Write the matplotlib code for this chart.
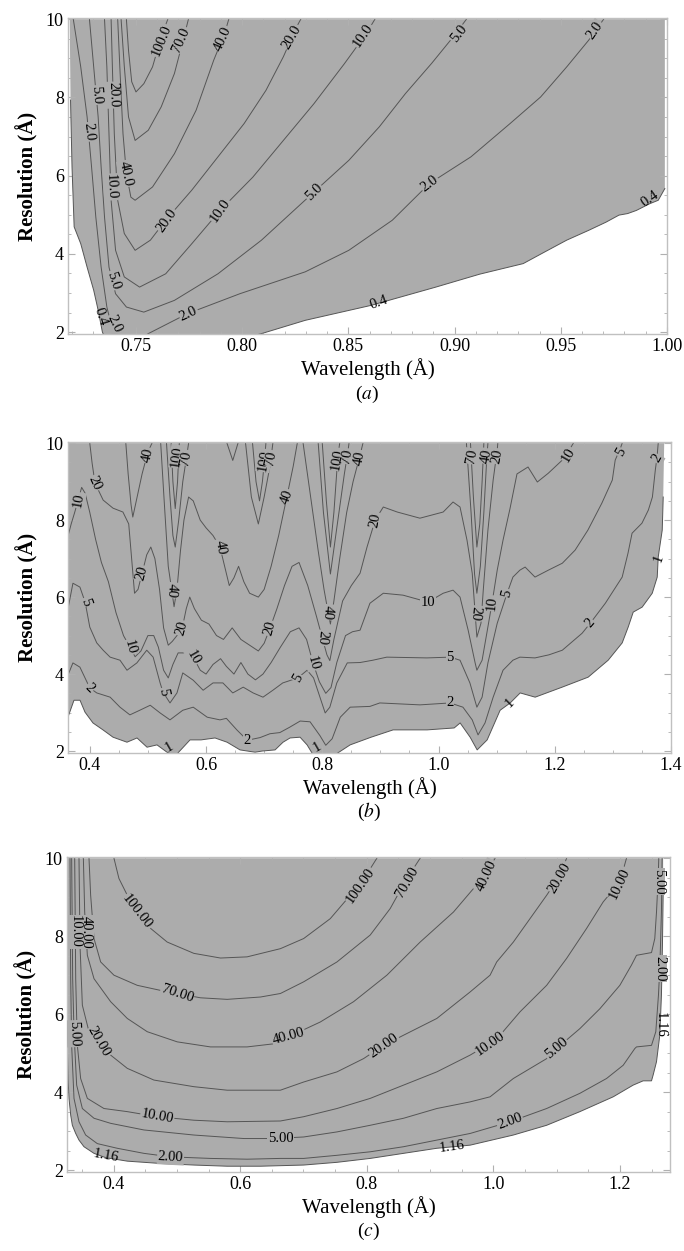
import numpy as np
import matplotlib.pyplot as plt
from matplotlib.ticker import MultipleLocator, FormatStrFormatter

plt.rcParams['font.family'] = ['Liberation Serif', 'DejaVu Serif']
plt.rcParams['mathtext.fontset'] = 'stix'

GRAY = '#acacac'
INK = '#555555'

# ---------------- panel (a) ----------------
# lower edge of the shaded area (0.4 level)
a_edge = [(0.7188, 10.0), (0.7192, 7.93), (0.7199, 6.22), (0.7209, 4.69), (0.7240, 4.26),
          (0.7270, 3.66), (0.7301, 3.07), (0.7322, 2.56), (0.7342, 2.00), (0.7352, 1.87),
          (0.7600, 1.60), (0.7900, 1.70), (0.8091, 1.96), (0.8297, 2.30), (0.8605, 2.68),
          (0.8912, 3.15), (0.9118, 3.48), (0.9323, 3.75), (0.9425, 4.05), (0.9528, 4.35),
          (0.9631, 4.60), (0.9713, 4.81), (0.9774, 4.99), (0.9815, 5.03), (0.9856, 5.11),
          (0.9918, 5.28), (0.9959, 5.37), (0.9990, 5.67), (0.9990, 10.0)]
a_c2 = [(0.7205, 10.0), (0.7240, 8.78), (0.7270, 7.50), (0.7291, 6.22), (0.7311, 4.94),
        (0.7336, 3.66), (0.7363, 2.64), (0.7394, 1.96), (0.7476, 1.70), (0.7558, 1.96),
        (0.7742, 2.47), (0.7989, 2.98), (0.8297, 3.54), (0.8502, 4.09), (0.8707, 4.86),
        (0.8882, 5.80), (0.9077, 6.48), (0.9261, 7.33), (0.9405, 8.01), (0.9528, 8.78),
        (0.9631, 9.46), (0.9702, 10.0)]
a_c5 = [(0.7281, 10.0), (0.7301, 8.78), (0.7322, 7.50), (0.7336, 6.22), (0.7352, 4.94),
        (0.7373, 3.66), (0.7404, 2.98), (0.7455, 2.64), (0.7537, 2.51), (0.7681, 2.81),
        (0.7886, 3.49), (0.8091, 4.35), (0.8338, 5.58), (0.8502, 6.39), (0.8646, 7.25),
        (0.8769, 8.10), (0.8892, 8.87), (0.8994, 9.55), (0.9056, 10.0)]
a_c10 = [(0.7352, 10.0), (0.7363, 8.78), (0.7373, 7.07), (0.7383, 5.37), (0.7404, 4.09),
         (0.7445, 3.41), (0.7517, 3.15), (0.7640, 3.49), (0.7763, 4.26), (0.7896, 5.11),
         (0.8050, 5.96), (0.8194, 6.90), (0.8338, 7.84), (0.8481, 8.86), (0.8584, 9.63),
         (0.8625, 10.0)]
a_c20 = [(0.7383, 10.0), (0.7389, 8.78), (0.7398, 7.07), (0.7414, 5.37), (0.7445, 4.52),
         (0.7496, 4.09), (0.7568, 4.35), (0.7640, 4.86), (0.7763, 5.63), (0.7886, 6.48),
         (0.8009, 7.33), (0.8112, 8.18), (0.8194, 9.04), (0.8256, 9.80), (0.8276, 10.0)]
a_c40 = [(0.7414, 10.0), (0.7424, 8.78), (0.7439, 7.07), (0.7455, 6.05), (0.7476, 5.45),
         (0.7496, 5.37), (0.7578, 5.71), (0.7681, 6.56), (0.7783, 7.67), (0.7866, 8.95),
         (0.7917, 9.63), (0.7937, 10.0)]
a_c70 = [(0.7430, 10.0), (0.7445, 8.80), (0.7465, 7.50), (0.7496, 6.90), (0.7558, 7.16),
         (0.7619, 7.76), (0.7681, 8.61), (0.7722, 9.46), (0.7747, 10.0)]
a_c100 = [(0.7455, 10.0), (0.7465, 9.20), (0.7480, 8.40), (0.7500, 8.14), (0.7537, 8.35),
          (0.7578, 8.78), (0.7619, 9.55), (0.7650, 10.0)]
a_tags = [(0.7619, 9.45, '100.0', 68), (0.7712, 9.48, '70.0', 66), (0.7907, 9.50, '40.0', 66),
          (0.8232, 9.55, '20.0', 60), (0.8570, 9.58, '10.0', 56), (0.9019, 9.62, '5.0', 52),
          (0.9662, 9.72, '2.0', 55), (0.7313, 8.06, '5.0', -86), (0.7393, 8.06, '20.0', -88),
          (0.7278, 7.12, '2.0', -84), (0.7452, 6.05, '40.0', -78), (0.7381, 5.71, '10.0', -87),
          (0.7645, 4.86, '20.0', 55), (0.7896, 5.11, '10.0', 55), (0.8338, 5.58, '5.0', 45),
          (0.8882, 5.80, '2.0', 37), (0.7392, 3.32, '5.0', -72), (0.7748, 2.47, '2.0', 25),
          (0.7400, 2.22, '2.0', -65)]
a_edge_tags = [(0.8646, 2.76, '0.4', 20), (0.9918, 5.40, '0.4', 35), (0.7335, 2.40, '0.4', -72)]

# ---------------- panel (b) ----------------
b_edge = [(0.3608, 10.0), (0.3608, 2.81), (0.3728, 3.32), (0.3832, 3.32), (0.3918, 3.01),
          (0.4055, 2.73), (0.4227, 2.55), (0.4400, 2.36), (0.4640, 2.23), (0.4813, 2.34),
          (0.4985, 2.10), (0.5157, 2.16), (0.5329, 1.97), (0.5467, 1.87), (0.5725, 2.29),
          (0.5914, 2.29), (0.6155, 2.34), (0.6362, 2.23), (0.6585, 2.03), (0.6844, 1.97),
          (0.6964, 2.00), (0.7188, 2.03), (0.7325, 2.23), (0.7446, 2.34), (0.7618, 2.36),
          (0.7739, 2.16), (0.7876, 1.82), (0.8135, 1.82), (0.8479, 2.16), (0.8840, 2.36),
          (0.9219, 2.55), (0.9804, 2.55), (1.0269, 2.60), (1.0372, 2.73), (1.0544, 2.36),
          (1.0665, 2.03), (1.0837, 2.29), (1.1060, 3.06), (1.1233, 3.25), (1.1405, 3.51),
          (1.1663, 3.40), (1.2127, 3.66), (1.2575, 3.92), (1.2919, 4.36), (1.3160, 4.81),
          (1.3263, 5.22), (1.3350, 5.61), (1.3504, 5.74), (1.3677, 6.10), (1.3763, 6.52),
          (1.3780, 7.04), (1.3849, 7.74), (1.3866, 8.60), (1.3883, 10.0)]
b_c2 = [(0.361, 3.92), (0.371, 4.29), (0.383, 4.18), (0.400, 3.64), (0.412, 3.51), (0.435, 3.40),
        (0.452, 3.14), (0.469, 2.94), (0.486, 3.06), (0.504, 3.19), (0.521, 2.99), (0.538, 2.81),
        (0.560, 3.06), (0.578, 3.14), (0.602, 2.88), (0.624, 2.81), (0.635, 2.85), (0.653, 2.55),
        (0.671, 2.28), (0.693, 2.35), (0.710, 2.45), (0.727, 2.48), (0.744, 2.62), (0.762, 2.78),
        (0.779, 2.76), (0.796, 2.40), (0.806, 2.15), (0.817, 2.32), (0.831, 2.88), (0.848, 3.14),
        (0.882, 3.16), (0.899, 3.25), (0.968, 3.20), (1.020, 3.25), (1.042, 3.14), (1.058, 2.81),
        (1.068, 2.42), (1.080, 2.73), (1.094, 3.40), (1.111, 4.10), (1.128, 4.36), (1.140, 4.44),
        (1.166, 4.42), (1.190, 4.50), (1.213, 4.62), (1.247, 5.06), (1.261, 5.32), (1.287, 5.84),
        (1.316, 6.52), (1.326, 7.14), (1.333, 7.66), (1.350, 7.92), (1.361, 8.26), (1.368, 8.60),
        (1.373, 9.30), (1.376, 9.64), (1.378, 10.0)]
b_c5 = [(0.361, 5.58), (0.371, 6.36), (0.383, 6.26), (0.392, 5.87), (0.400, 5.22), (0.412, 4.81),
        (0.423, 4.62), (0.435, 4.44), (0.452, 4.36), (0.464, 4.10), (0.481, 4.29), (0.498, 4.62),
        (0.509, 4.44), (0.521, 3.77), (0.526, 3.53), (0.538, 3.25), (0.550, 3.51), (0.560, 4.03),
        (0.578, 3.84), (0.595, 3.58), (0.612, 3.77), (0.629, 3.77), (0.646, 3.51), (0.664, 3.66),
        (0.681, 3.51), (0.698, 3.40), (0.715, 3.58), (0.732, 3.77), (0.758, 3.90), (0.774, 4.10),
        (0.785, 3.90), (0.796, 3.40), (0.805, 2.99), (0.813, 3.14), (0.825, 3.77), (0.843, 4.29),
        (0.865, 4.30), (0.887, 4.36), (0.911, 4.44), (0.980, 4.42), (1.020, 4.44), (1.037, 4.36),
        (1.054, 3.77), (1.066, 3.14), (1.075, 3.40), (1.085, 4.29), (1.101, 5.32), (1.118, 6.10),
        (1.128, 6.52), (1.140, 6.70), (1.149, 6.78), (1.166, 6.52), (1.189, 6.70), (1.213, 6.88),
        (1.235, 7.22), (1.257, 7.74), (1.281, 8.44), (1.299, 9.04), (1.304, 9.56), (1.313, 9.87),
        (1.316, 10.0)]
b_c10 = [(0.361, 7.50), (0.368, 7.90), (0.374, 8.20), (0.380, 8.52), (0.386, 8.85), (0.392, 8.70),
         (0.400, 8.20), (0.410, 7.50), (0.420, 6.90), (0.432, 6.40), (0.445, 5.60), (0.458, 5.00),
         (0.469, 4.70), (0.478, 4.45), (0.488, 4.60), (0.500, 5.00), (0.510, 5.00), (0.518, 4.70),
         (0.527, 4.10), (0.535, 3.90), (0.543, 4.25), (0.552, 4.55), (0.560, 4.55), (0.568, 4.50),
         (0.578, 4.44), (0.590, 4.10), (0.600, 4.00), (0.612, 4.25), (0.625, 4.40), (0.635, 4.20),
         (0.648, 4.00), (0.660, 4.30), (0.672, 4.00), (0.685, 3.85), (0.698, 4.00), (0.712, 4.30),
         (0.728, 4.70), (0.745, 5.10), (0.760, 5.20), (0.773, 4.90), (0.784, 4.29), (0.795, 3.80),
         (0.806, 3.50), (0.815, 3.65), (0.825, 4.30), (0.840, 5.00), (0.852, 5.10), (0.865, 5.14),
         (0.882, 5.84), (0.905, 6.10), (0.939, 6.05), (0.982, 5.87), (1.008, 6.10), (1.025, 6.18),
         (1.037, 6.00), (1.051, 5.14), (1.063, 4.29), (1.066, 4.10), (1.075, 4.36), (1.084, 5.14),
         (1.092, 5.84), (1.101, 6.70), (1.111, 7.48), (1.123, 8.30), (1.135, 9.20), (1.154, 9.38),
         (1.170, 8.99), (1.189, 9.22), (1.213, 9.56), (1.223, 9.77), (1.232, 10.0)]
b_c20 = [(0.400, 10.0), (0.404, 9.48), (0.409, 8.96), (0.423, 8.52), (0.440, 8.31), (0.457, 8.21),
         (0.467, 7.90), (0.472, 7.00), (0.477, 6.10), (0.483, 6.20), (0.490, 6.62), (0.498, 7.10),
         (0.505, 7.30), (0.512, 7.00), (0.520, 6.20), (0.527, 5.20), (0.535, 4.75), (0.542, 4.85),
         (0.550, 5.00), (0.559, 5.19), (0.566, 5.70), (0.572, 6.00), (0.580, 5.70), (0.592, 5.40),
         (0.605, 5.30), (0.618, 5.00), (0.630, 4.90), (0.645, 5.20), (0.660, 4.90), (0.675, 4.75),
         (0.690, 4.60), (0.700, 4.80), (0.710, 5.19), (0.722, 5.70), (0.735, 6.30), (0.748, 6.80),
         (0.760, 6.90), (0.775, 6.30), (0.790, 5.50), (0.800, 4.94), (0.808, 4.50), (0.813, 4.35),
         (0.820, 4.90), (0.835, 5.90), (0.850, 6.30), (0.865, 6.62), (0.877, 7.30), (0.891, 8.00),
         (0.905, 8.34), (0.929, 8.21), (0.968, 8.05), (1.008, 8.21), (1.025, 8.47), (1.037, 8.34),
         (1.049, 7.48), (1.058, 6.62), (1.063, 5.58), (1.066, 4.96), (1.073, 5.32), (1.077, 6.18),
         (1.085, 7.74), (1.094, 9.04), (1.101, 9.82), (1.102, 10.0)]
b_c40a = [(0.462, 10.0), (0.466, 9.20), (0.471, 8.40), (0.474, 8.08), (0.480, 8.50), (0.490, 9.20),
          (0.500, 9.77), (0.507, 10.0)]
b_c40b = [(0.522, 10.0), (0.528, 8.50), (0.535, 6.80), (0.541, 6.18), (0.545, 5.75), (0.550, 6.20),
          (0.556, 7.20), (0.562, 8.00), (0.570, 8.60), (0.578, 8.50), (0.590, 8.00), (0.600, 7.80),
          (0.612, 7.60), (0.624, 7.30), (0.632, 6.80), (0.640, 6.30), (0.648, 6.50), (0.656, 6.80),
          (0.665, 6.40), (0.675, 6.10), (0.690, 6.00), (0.700, 6.20), (0.712, 6.80), (0.725, 7.60),
          (0.739, 8.60), (0.750, 9.40), (0.757, 10.0)]
b_c40c = [(0.767, 10.0), (0.780, 8.60), (0.793, 7.20), (0.803, 6.20), (0.810, 5.61), (0.814, 5.30),
          (0.820, 5.90), (0.830, 7.00), (0.842, 8.20), (0.853, 9.00), (0.865, 9.69), (0.870, 10.0)]
b_c40d = [(1.048, 10.0), (1.056, 8.20), (1.062, 6.60), (1.066, 6.10), (1.072, 6.80), (1.078, 8.20),
          (1.083, 9.60), (1.085, 10.0)]
b_c70a = [(0.532, 10.0), (0.538, 8.60), (0.543, 7.60), (0.547, 7.30), (0.553, 8.00), (0.560, 9.00),
          (0.567, 9.69), (0.570, 10.0)]
b_c70b = [(0.668, 10.0), (0.678, 8.60), (0.690, 7.90), (0.700, 8.60), (0.710, 9.40), (0.715, 10.0)]
b_c70c = [(0.793, 10.0), (0.802, 8.20), (0.814, 6.60), (0.825, 7.80), (0.838, 9.20), (0.844, 9.77),
          (0.846, 10.0)]
b_c70d = [(1.055, 10.0), (1.060, 8.60), (1.066, 7.30), (1.071, 7.90), (1.075, 9.00), (1.078, 10.0)]
b_c100a = [(0.540, 10.0), (0.543, 9.00), (0.547, 8.30), (0.551, 9.00), (0.554, 10.0)]
b_c100b = [(0.636, 10.0), (0.646, 9.55), (0.655, 10.0)]
b_c100c = [(0.680, 10.0), (0.686, 9.00), (0.692, 8.50), (0.697, 9.00), (0.701, 9.60), (0.703, 10.0)]
b_c100d = [(0.800, 10.0), (0.807, 8.50), (0.814, 7.30), (0.820, 8.20), (0.827, 9.69), (0.830, 10.0)]
b_tags = [(0.380, 8.52, '10', 80), (0.409, 8.96, '20', -65), (0.500, 9.68, '40', 78),
          (0.550, 9.65, '100', 82), (0.566, 9.62, '70', 80), (0.392, 5.87, '5', -70),
          (0.400, 3.64, '2', -45), (0.490, 6.62, '20', 75), (0.541, 6.18, '40', -95),
          (0.469, 4.70, '10', -75), (0.559, 5.19, '20', 75), (0.578, 4.44, '10', -60),
          (0.526, 3.53, '5', -80), (0.624, 7.30, '40', -80), (0.739, 8.60, '40', 70),
          (0.700, 9.55, '100', 80), (0.712, 9.60, '70', 80), (0.710, 5.19, '20', 75),
          (0.671, 2.28, '2', 0), (0.758, 3.90, '5', 60), (0.784, 4.29, '10', -75),
          (0.800, 4.94, '20', -95), (0.810, 5.61, '40', -95), (0.826, 9.58, '100', 80),
          (0.843, 9.66, '70', 80), (0.864, 9.62, '40', 80), (0.891, 8.00, '20', 80),
          (0.982, 5.87, '10', 0), (1.020, 4.44, '5', 0), (1.020, 3.25, '2', 0),
          (1.063, 5.58, '20', -95), (1.092, 5.84, '10', 85), (1.118, 6.10, '5', 75),
          (1.057, 9.66, '70', 80), (1.083, 9.66, '40', 80), (1.101, 9.66, '20', 80),
          (1.223, 9.70, '10', 60), (1.313, 9.76, '5', 60), (1.376, 9.60, '2', 60),
          (1.261, 5.32, '2', 50)]
b_edge_tags = [(0.536, 2.10, '1', 30), (0.791, 2.10, '1', 30), (1.123, 3.25, '1', 45),
               (1.378, 7.01, '1', 70)]

# ---------------- panel (c) ----------------
c_edge = [(0.3270, 10.0), (0.3270, 5.20), (0.3281, 4.35), (0.3296, 3.84), (0.3323, 3.41),
          (0.3349, 3.15), (0.3402, 2.94), (0.3454, 2.77), (0.3533, 2.60), (0.3691, 2.43),
          (0.3875, 2.32), (0.4217, 2.23), (0.4742, 2.17), (0.5268, 2.13), (0.5794, 2.10),
          (0.6320, 2.10), (0.7003, 2.13), (0.7529, 2.20), (0.8054, 2.30), (0.8580, 2.43),
          (0.9106, 2.56), (0.9632, 2.64), (1.0315, 2.90), (1.0841, 3.15), (1.1366, 3.50),
          (1.1892, 3.88), (1.2207, 4.18), (1.2365, 4.29), (1.2497, 4.29), (1.2523, 4.44),
          (1.2576, 4.78), (1.2628, 5.46), (1.2654, 6.49), (1.2670, 7.77), (1.2681, 9.05),
          (1.2681, 10.0)]
c_c2 = [(0.3312, 10.0), (0.3323, 6.91), (0.3338, 5.20), (0.3375, 3.84), (0.3454, 3.24),
        (0.3559, 2.90), (0.3743, 2.68), (0.4059, 2.56), (0.4479, 2.43), (0.4900, 2.34),
        (0.5531, 2.30), (0.6109, 2.28), (0.6635, 2.30), (0.7003, 2.30), (0.7529, 2.38),
        (0.8054, 2.47), (0.8580, 2.60), (0.9106, 2.77), (0.9632, 2.94), (1.0262, 3.24),
        (1.0841, 3.58), (1.1366, 3.97), (1.1787, 4.35), (1.2050, 4.69), (1.2234, 5.12),
        (1.2260, 5.16), (1.2497, 5.20), (1.2565, 5.55), (1.2607, 6.49), (1.2628, 7.17),
        (1.2639, 7.77), (1.2654, 8.62), (1.2665, 10.0)]
c_c5 = [(0.3338, 10.0), (0.3354, 6.91), (0.3375, 5.55), (0.3417, 4.18), (0.3507, 3.58),
        (0.3691, 3.33), (0.3954, 3.20), (0.4479, 3.03), (0.5268, 2.90), (0.6057, 2.81),
        (0.6530, 2.81), (0.7003, 2.85), (0.7529, 2.98), (0.8054, 3.15), (0.8580, 3.33),
        (0.9106, 3.58), (0.9632, 3.75), (0.9947, 3.88), (1.0315, 4.35), (1.0841, 4.86),
        (1.0998, 5.12), (1.1366, 5.63), (1.1682, 6.14), (1.1997, 6.74), (1.2181, 7.26),
        (1.2260, 7.51), (1.2497, 7.58), (1.2549, 7.94), (1.2576, 8.62), (1.2602, 9.48),
        (1.2612, 10.0)]
c_c10 = [(0.3386, 10.0), (0.3402, 6.91), (0.3428, 5.20), (0.3480, 4.35), (0.3586, 3.84),
         (0.3848, 3.58), (0.4217, 3.50), (0.4690, 3.37), (0.5268, 3.28), (0.5794, 3.24),
         (0.6635, 3.26), (0.7003, 3.37), (0.7529, 3.58), (0.8054, 3.84), (0.8580, 4.18),
         (0.9106, 4.52), (0.9632, 4.95), (0.9947, 5.25), (1.0104, 5.46), (1.0420, 6.06),
         (1.0841, 6.74), (1.1156, 7.43), (1.1472, 8.20), (1.1734, 8.88), (1.1997, 9.39),
         (1.2102, 10.0)]
c_c20 = [(0.3454, 10.0), (0.3470, 7.77), (0.3507, 6.23), (0.3612, 5.55), (0.3770, 5.29),
         (0.3954, 4.95), (0.4217, 4.61), (0.4637, 4.31), (0.5268, 4.14), (0.5794, 4.05),
         (0.6635, 4.05), (0.7003, 4.26), (0.7529, 4.52), (0.7949, 4.86), (0.8265, 5.20),
         (0.8580, 5.46), (0.9106, 5.89), (0.9632, 6.57), (0.9947, 7.00), (1.0052, 7.34),
         (1.0315, 7.85), (1.0578, 8.45), (1.0841, 9.05), (1.1051, 9.56), (1.1156, 10.0)]
c_c40 = [(0.3523, 10.0), (0.3544, 8.62), (0.3586, 7.51), (0.3691, 6.91), (0.3954, 6.32),
         (0.4217, 5.89), (0.4532, 5.55), (0.5005, 5.29), (0.5531, 5.16), (0.6109, 5.16),
         (0.6583, 5.25), (0.6766, 5.42), (0.7266, 5.80), (0.7791, 6.32), (0.8317, 7.00),
         (0.8843, 7.85), (0.9369, 8.62), (0.9684, 9.22), (0.9842, 9.48), (1.0026, 10.0)]
c_c70 = [(0.3612, 10.0), (0.3638, 9.05), (0.3691, 7.94), (0.3796, 7.34), (0.4006, 7.00),
         (0.4374, 6.74), (0.4742, 6.61), (0.5005, 6.53), (0.5373, 6.42), (0.5794, 6.38),
         (0.6320, 6.44), (0.6635, 6.53), (0.7003, 6.83), (0.7529, 7.34), (0.8054, 8.03),
         (0.8370, 8.71), (0.8633, 9.48), (0.8843, 10.0)]
c_c100 = [(0.4006, 10.0), (0.4085, 9.48), (0.4217, 9.05), (0.4374, 8.62), (0.4585, 8.20),
          (0.4847, 7.85), (0.5268, 7.56), (0.5689, 7.44), (0.6109, 7.47), (0.6635, 7.68),
          (0.7003, 7.94), (0.7423, 8.45), (0.7739, 9.05), (0.7897, 9.39), (0.8054, 9.73),
          (0.8159, 10.0)]
c_tags = [(0.4374, 8.62, '100.00', -52), (0.5005, 6.53, '70.00', -18), (0.3570, 8.11, '40.00', -90),
          (0.3392, 8.11, '10.00', -90), (0.3376, 5.50, '5.00', -88), (0.3770, 5.29, '20.00', -60),
          (0.4690, 3.37, '10.00', -10), (0.4900, 2.32, '2.00', -3), (0.6635, 2.81, '5.00', 0),
          (0.6766, 5.42, '40.00', 15), (0.8265, 5.20, '20.00', 35), (0.7897, 9.30, '100.00', 55),
          (0.8633, 9.40, '70.00', 60), (0.9947, 5.25, '10.00', 35), (0.9890, 9.55, '40.00', 65),
          (1.1051, 9.50, '20.00', 60), (1.1997, 9.35, '10.00', 65), (1.2602, 9.40, '5.00', -90),
          (1.0998, 5.12, '5.00', 40), (1.0262, 3.24, '2.00', 20), (1.2628, 7.17, '2.00', -90)]
c_edge_tags = [(0.3875, 2.36, '1.16', -10), (0.9343, 2.60, '1.16', 8), (1.2640, 5.72, '1.16', -90)]


def panel(ax, edge, lines, tags, edge_tags, xlim, major, minor, fmt, tag):
    ex, ey = np.array(edge).T
    ax.fill(ex, ey, color=GRAY, lw=0, zorder=1)
    ax.plot(ex[1:-1], ey[1:-1], color=INK, lw=0.7, zorder=2)
    for ln in lines:
        lx, ly = np.array(ln).T
        ax.plot(lx, ly, color=INK, lw=0.7, zorder=2)
    for x, y, s, r in tags:
        ax.text(x, y, s, rotation=r, rotation_mode='anchor', ha='center', va='center',
                fontsize=10.5, zorder=3, clip_on=True,
                bbox=dict(boxstyle='square,pad=0.05', fc=GRAY, ec='none'))
    for x, y, s, r in edge_tags:
        ax.text(x, y, s, rotation=r, rotation_mode='anchor', ha='center', va='center',
                fontsize=10.5, zorder=3, clip_on=True)
    ax.set_xlim(*xlim)
    ax.set_ylim(1.95, 10.03)
    ax.xaxis.set_major_locator(MultipleLocator(major))
    ax.xaxis.set_minor_locator(MultipleLocator(minor))
    ax.xaxis.set_major_formatter(FormatStrFormatter(fmt))
    ax.yaxis.set_major_locator(MultipleLocator(2))
    ax.yaxis.set_minor_locator(MultipleLocator(0.5))
    ax.tick_params(which='both', direction='in', top=True, right=True, color='#b0b0b0',
                   labelsize=13, pad=3)
    ax.tick_params(which='major', length=5)
    ax.tick_params(which='minor', length=2.5)
    for sp in ax.spines.values():
        sp.set_color('#c0c0c0')
        sp.set_linewidth(1.0)
    ax.set_xlabel('Wavelength (Å)', fontsize=15, labelpad=2)
    ax.set_ylabel('Resolution (Å)', fontsize=15, fontweight='bold', labelpad=5)
    ax.text(0.5, -0.19, r'($\mathit{' + tag + '}$)', transform=ax.transAxes,
            ha='center', va='center', fontsize=14)


fig = plt.figure(figsize=(6.84, 12.51), dpi=100)
ax_a = fig.add_axes([0.0994, 0.733, 0.8757, 0.2526])
ax_b = fig.add_axes([0.0994, 0.3981, 0.8816, 0.2486])
ax_c = fig.add_axes([0.0980, 0.0631, 0.8816, 0.2518])

panel(ax_a, a_edge, [a_c2, a_c5, a_c10, a_c20, a_c40, a_c70, a_c100], a_tags, a_edge_tags,
      (0.718, 1.0), 0.05, 0.01, '%.2f', 'a')
panel(ax_b, b_edge, [b_c2, b_c5, b_c10, b_c20, b_c40a, b_c40b, b_c40c, b_c40d,
                     b_c70a, b_c70b, b_c70c, b_c70d, b_c100a, b_c100b, b_c100c, b_c100d],
      b_tags, b_edge_tags, (0.3625, 1.4), 0.2, 0.05, '%.1f', 'b')
panel(ax_c, c_edge, [c_c2, c_c5, c_c10, c_c20, c_c40, c_c70, c_c100], c_tags, c_edge_tags,
      (0.3265, 1.279), 0.2, 0.05, '%.1f', 'c')

fig.savefig('out.png', dpi=100)
